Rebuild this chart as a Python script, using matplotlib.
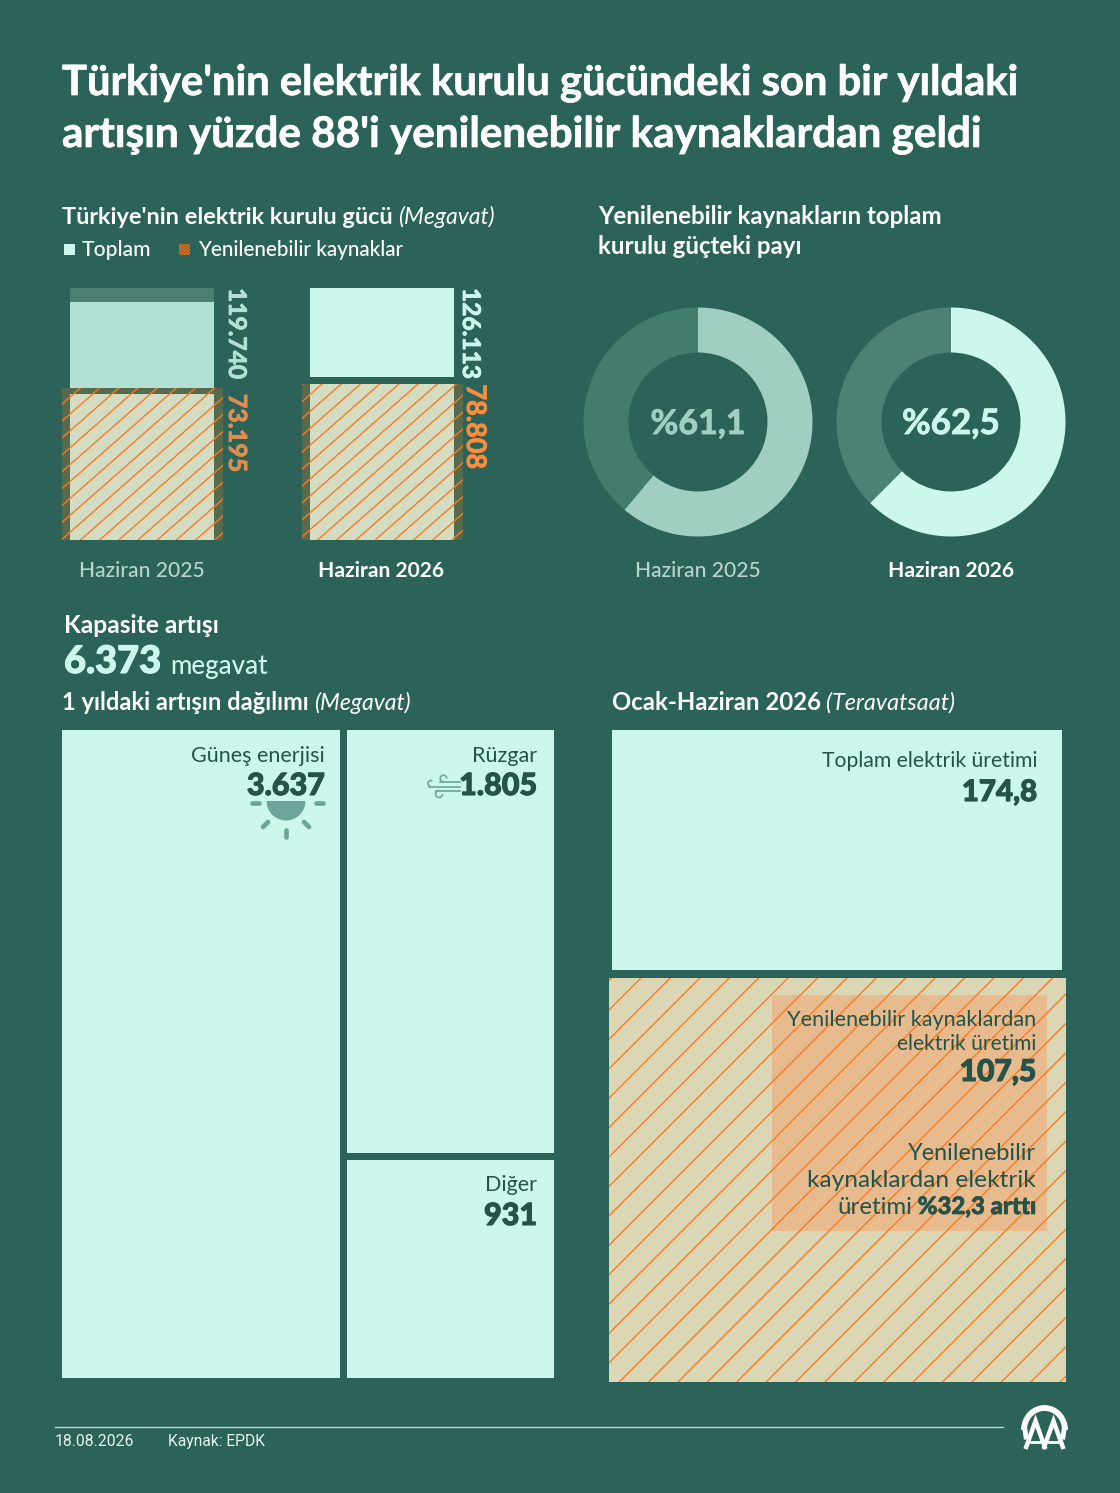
import numpy as np
import matplotlib
matplotlib.use('Agg')
import matplotlib.pyplot as plt
import matplotlib.patheffects as pe
from matplotlib.patches import Rectangle, Arc, Wedge

W, H = 1120, 1493

# --- data
years = ['Haziran 2025', 'Haziran 2026']
total_mw = [119740, 126113]
renewable_mw = [73195, 78808]
total_labels = ['119.740', '126.113']
renewable_labels = ['73.195', '78.808']
share_pct = [61.1, 62.5]
share_labels = ['%61,1', '%62,5']
increase_names = ['Güneş enerjisi', 'Rüzgar', 'Diğer']
increase_mw = [3637, 1805, 931]
increase_labels = ['3.637', '1.805', '931']
prod_total = 174.8
prod_renewable = 107.5

# --- colours
BG = '#2b6359'
MINT = '#ccf7ec'
MINT_OLD = '#b2e0d4'
DARK = '#235349'
ORANGE = '#f97b22'
WHITE = '#ffffff'
FONT = 'Lato'

fig = plt.figure(figsize=(W / 100, H / 100), dpi=100, facecolor=BG)


def px_axes(x0, y0, x1, y1, zorder=1):
    # axes placed by pixel box, y counted from the top of the image
    ax = fig.add_axes([x0 / W, 1 - y1 / H, (x1 - x0) / W, (y1 - y0) / H], zorder=zorder)
    ax.axis('off')
    return ax


over = px_axes(0, 0, W, H, zorder=10)
over.set_xlim(0, W)
over.set_ylim(H, 0)
renderer = fig.canvas.get_renderer()


def txt(x, y, s, size, color=WHITE, weight='normal', ha='left', style='normal', heavy=0, **kw):
    t = over.text(x, y, s, fontsize=size * 0.72, color=color, fontweight=weight, ha=ha,
                  va=kw.pop('va', 'baseline'), fontstyle=style, family=kw.pop('family', FONT),
                  zorder=kw.pop('zorder', 20), **kw)
    if heavy:
        # thicken the strokes, the installed cuts are lighter than the original
        t.set_path_effects([pe.withStroke(linewidth=heavy, foreground=color)])
    return t


def run(x, y, parts, color=WHITE, gap=5):
    # several styles on one baseline, left to right
    for s, size, weight, style in parts:
        t = txt(x, y, s, size, color=color, weight=weight, style=style)
        x = over.transData.inverted().transform(t.get_window_extent(renderer))[1][0] + gap


def run_right(x, y, parts, color=DARK, gap=5):
    for s, size, weight, heavy in reversed(parts):
        t = txt(x, y, s, size, color=color, weight=weight, ha='right', heavy=heavy)
        x = over.transData.inverted().transform(t.get_window_extent(renderer))[0][0] - gap


def hatch(box, first_x, step, slope, clip, top_y):
    # diagonal lines, clipped to the patch they belong to
    x0, y0, x1, y1 = box
    up = (y1 - y0 + 20) / slope
    n0 = int(np.floor((x0 - 10 - first_x) / step))
    n1 = int(np.ceil((x1 + up + 10 - first_x) / step))
    for k in range(n0, n1 + 1):
        xt = first_x + k * step
        ya, yb = y0 - 5, y1 + 5
        line, = over.plot([xt + (top_y - ya) / slope, xt + (top_y - yb) / slope], [ya, yb],
                          color=ORANGE, lw=1.0, zorder=5, solid_capstyle='butt')
        line.set_clip_path(clip)


def block(box, value, color):
    # one value filling its own pixel box
    ax = px_axes(*box)
    ax.set_xlim(0, 1)
    ax.set_ylim(0, value)
    ax.bar(0, value, width=1, align='edge', color=color, linewidth=0)
    return ax


# --- headline
txt(62, 95, "Türkiye'nin elektrik kurulu gücündeki son bir yıldaki", 41.7, weight='bold', heavy=0.5)
txt(62, 147, "artışın yüzde 88'i yenilenebilir kaynaklardan geldi", 42.2, weight='bold', heavy=0.5)

# --- installed power bars
run(62, 224, [("Türkiye'nin elektrik kurulu gücü", 23.5, 'bold', 'normal'),
              ('(Megavat)', 23, 'normal', 'italic')])
over.add_patch(Rectangle((64, 244), 11, 11, color=MINT, lw=0))
txt(82, 256, 'Toplam', 21, weight='medium')
leg = Rectangle((179, 244), 11, 11, facecolor='#8a5a2e', lw=0)
over.add_patch(leg)
for k in np.arange(179, 202, 3.2):
    ln, = over.plot([k - 11, k], [255, 244], color='#e8701c', lw=0.9)
    ln.set_clip_path(leg)
txt(198, 256, 'Yenilenebilir kaynaklar', 20.7, weight='medium')

bar_boxes = [(62, 223), (302, 463)]
top_colors = [MINT_OLD, MINT]
label_total_x = [236.5, 470.5]
label_ren_x = [236.5, 475]
total_sizes = [24.5, 24.5]
ren_sizes = [25, 27]
ren_colors = ['#e08d4e', '#fb8b3e']
total_colors = [MINT_OLD, MINT]
band_colors = ['#566a4d', '#566a4d']
cream_colors = ['#d4dcc1', '#d4dcc1']
first_hatch = [91.7, 321.7]
hatch_top = [394.9, 384.3]
for i in range(2):
    x0, x1 = bar_boxes[i]
    ax = px_axes(x0, 288, x1, 540)
    ax.set_xlim(0, x1 - x0)
    per_px = total_mw[i] / 249
    ax.set_ylim(0, 252 * per_px)
    inner_left, inner_w = 8, 144
    gap = [0, 7][i] * per_px
    pad = 3 * per_px
    ax.bar(inner_left, total_mw[i] - renewable_mw[i] - gap + pad, bottom=renewable_mw[i] + gap,
           width=inner_w, align='edge', color=top_colors[i], lw=0)
    if i == 0:
        ax.bar(inner_left, 14 * per_px, bottom=total_mw[i] + pad - 14 * per_px, width=inner_w,
               align='edge', color='#4b8071', lw=0)
    band = ax.bar(0, renewable_mw[i], width=x1 - x0, align='edge', color=band_colors[i], lw=0)[0]
    inset = [6, 0][i] * per_px
    ax.bar(inner_left, renewable_mw[i] - inset, width=inner_w, align='edge',
           color=cream_colors[i], lw=0)
    y_top = 540 - renewable_mw[i] / per_px
    hatch((x0, y_top, x1, 540), first_hatch[i], 19.2, 0.88, band, hatch_top[i])
    txt(label_total_x[i], 288, total_labels[i], total_sizes[i], color=total_colors[i],
        weight='bold', ha='center', va='top', rotation=-90, heavy=0.6)
    txt(label_ren_x[i], y_top + [6, 0][i], renewable_labels[i], ren_sizes[i], color=ren_colors[i],
        weight='bold', ha='center', va='top', rotation=-90, heavy=0.6)

label_colors = ['#b8d4cd', WHITE]
txt(141.5, 577, years[0], 21, color=label_colors[0], weight='medium', ha='center')
txt(381.5, 577, years[1], 21, color=label_colors[1], weight='bold', ha='center')

# --- renewable share donuts
txt(598, 224, 'Yenilenebilir kaynakların toplam', 24, weight='bold')
txt(598, 254, 'kurulu güçteki payı', 24, weight='bold')
centers = [698, 951]
donut_on = ['#a0cfc2', MINT]
donut_off = ['#427c6d', '#4c8276']
share_sizes = [34, 35]
for i in range(2):
    cx = centers[i]
    ax = px_axes(cx - 114.5, 422 - 114.5, cx + 114.5, 422 + 114.5)
    ax.pie([share_pct[i], 100 - share_pct[i]], colors=[donut_on[i], donut_off[i]],
           startangle=90, counterclock=False, radius=1,
           wedgeprops=dict(width=45 / 114.5, linewidth=0))
    ax.set_xlim(-1, 1)
    ax.set_ylim(-1, 1)
    txt(cx, 434, share_labels[i], share_sizes[i], color=donut_on[i], weight='bold', ha='center',
        heavy=0.6)
txt(698, 577, years[0], 21, color=label_colors[0], weight='medium', ha='center')
txt(951, 577, years[1], 21, color=label_colors[1], weight='bold', ha='center')

# --- capacity increase
txt(64, 633, 'Kapasite artışı', 24.5, weight='bold')
txt(64, 673, '6.373', 38, color=MINT, weight='black', heavy=0.8)
txt(170, 674, 'megavat', 26, color=MINT, weight='medium')
run(62, 710, [('1 yıldaki artışın dağılımı', 23.7, 'bold', 'normal'),
              ('(Megavat)', 23, 'normal', 'italic')])
run(612, 710, [('Ocak-Haziran 2026', 24, 'bold', 'normal'),
               ('(Teravatsaat)', 23.4, 'normal', 'italic')])

# treemap of the increase
tree_boxes = [(62, 730, 340, 1378), (347, 730, 554, 1153), (347, 1160, 554, 1378)]
for box, val in zip(tree_boxes, increase_mw):
    block(box, val, MINT)
name_pos = [(325, 762), (537, 762), (537, 1191)]
value_pos = [(325, 795), (537, 795), (537, 1225)]
for name, lab, (nx, ny), (vx, vy) in zip(increase_names, increase_labels, name_pos, value_pos):
    txt(nx, ny, name, 21.5, color=DARK, ha='right')
    txt(vx, vy, lab, 30.5, color=DARK, weight='black', ha='right', heavy=0.8)

# sun icon
ICON = '#6ea59a'
over.add_patch(Wedge((286, 801), 19.5, 0, 180, color=ICON, lw=0, zorder=6))
for (xa, ya, xb, yb) in [(252, 803, 259, 803), (316, 803, 323, 803), (263, 827, 268, 822),
                         (304, 822, 309, 827), (286, 830, 286, 837)]:
    over.plot([xa, xb], [ya, yb], color=ICON, lw=3.4, solid_capstyle='round', zorder=6)

# wind icon
for (xa, ya) in [(440, 781.5), (429, 786.5), (436, 790.5)]:
    over.plot([xa, 460], [ya, ya], color=ICON, lw=1.2, zorder=6)
over.add_patch(Arc((443.5, 778.5), 6.5, 6.5, theta1=90, theta2=360, color=ICON, lw=1.2, zorder=6))
over.add_patch(Arc((431, 783.5), 6, 6, theta1=90, theta2=300, color=ICON, lw=1.2, zorder=6))
over.add_patch(Arc((439, 794), 7, 7, theta1=0, theta2=270, color=ICON, lw=1.2, zorder=6))

# --- production
block((612, 730, 1062, 970), prod_total - prod_renewable, MINT)
ax = block((609, 978, 1066, 1382), prod_renewable, '#dbd7b5')
big = ax.patches[0]
over.add_patch(Rectangle((772, 995), 275, 236, color='#e8bb8e', lw=0, zorder=3))
hatch((609, 978, 1066, 1382), 641.7, 29.4, 1.0, big, 977.3)

txt(1037, 767, 'Toplam elektrik üretimi', 21.1, color=DARK, ha='right')
txt(1037, 801, '174,8', 29.5, color=DARK, weight='black', ha='right', heavy=0.8)
txt(1036, 1026, 'Yenilenebilir kaynaklardan', 21.7, color=DARK, ha='right')
txt(1036, 1050, 'elektrik üretimi', 21, color=DARK, ha='right')
txt(1036, 1081, '107,5', 30, color=DARK, weight='black', ha='right', heavy=0.8)
txt(1036, 1160, 'Yenilenebilir', 23.5, color=DARK, ha='right')
txt(1036, 1187, 'kaynaklardan elektrik', 24.5, color=DARK, ha='right')
run_right(1036, 1214, [('üretimi', 24, 'normal', 0), ('%32,3 arttı', 24, 'black', 0.5)])

# --- footer
over.plot([55, 1003], [1427, 1427], color='#b9d6cf', lw=1)
txt(55, 1446, '18.08.2026', 15.7, color='#e8f2ef', family='Roboto')
txt(168, 1446, 'Kaynak: EPDK', 15.6, color='#e8f2ef', family='Roboto')

# agency mark
over.add_patch(Arc((1044.5, 1430), 41, 44, theta1=180, theta2=360, color=WHITE, lw=4.2, zorder=6))
for xa in [1026, 1063]:
    over.plot([xa - 1 if xa < 1044 else xa + 1, xa], [1430, 1437], color=WHITE, lw=3.5, zorder=6)
for x_mid in [1035.5, 1053.5]:
    over.plot([x_mid - 10, x_mid, x_mid + 10], [1449, 1421, 1449], color=WHITE, lw=3.2,
              zorder=6, solid_joinstyle='miter', solid_capstyle='butt')
    over.plot([x_mid - 5, x_mid + 5], [1442, 1442], color=WHITE, lw=2, zorder=6)

fig.savefig('out.png', dpi=100, facecolor=BG)
